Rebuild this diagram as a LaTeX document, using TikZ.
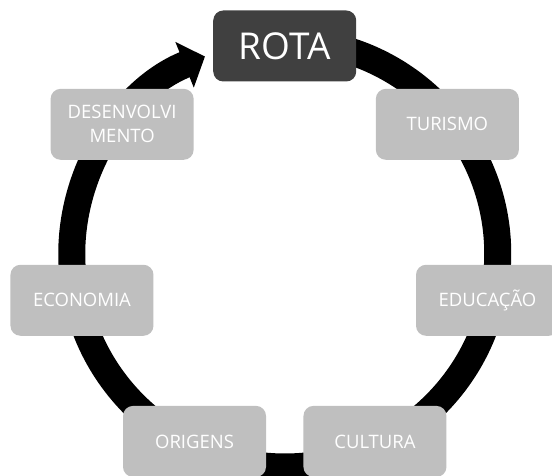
\documentclass[tikz,border=0pt]{standalone}
\usepackage{fontspec}
\setmainfont{Open Sans}
\usetikzlibrary{arrows.meta}

\definecolor{boxgray}{HTML}{BFBFBF}
\definecolor{darkbox}{HTML}{404040}

\begin{document}
\begin{tikzpicture}
   \tikzstyle{every node}=[rounded corners=10pt, minimum width=143pt, minimum height=71pt, align=center, text=white, inner sep=2pt]
   \tikzstyle{topic}=[fill=boxgray, font=\fontsize{18.5}{24}\selectfont]
   \tikzstyle{head}=[fill=darkbox, font=\fontsize{37}{40}\selectfont]
   \tikzstyle{ring}=[line width=27pt, -{Triangle[width=48pt,length=22pt]}]

\useasboundingbox (-284.75pt,-222pt) rectangle (267.25pt,254pt);
\coordinate (c) at (0,0);

% the cycle
\draw[ring] (88:213pt) arc[start angle=88, end angle=-248, radius=213pt];

\node[head]  (rota)     at (90:208pt)     {ROTA};
\node[topic] (turismo)  at (38.57:208pt)  {TURISMO};
\node[topic] (educacao) at (-12.86:208pt) {EDUCAÇÃO};
\node[topic] (cultura)  at (-64.29:208pt) {CULTURA};
\node[topic] (origens)  at (-115.71:208pt) {ORIGENS};
\node[topic] (economia) at (192.86:208pt) {ECONOMIA};
\node[topic] (desenv)   at (141.43:208pt) {DESENVOLVI\\MENTO};

\end{tikzpicture}
\end{document}
